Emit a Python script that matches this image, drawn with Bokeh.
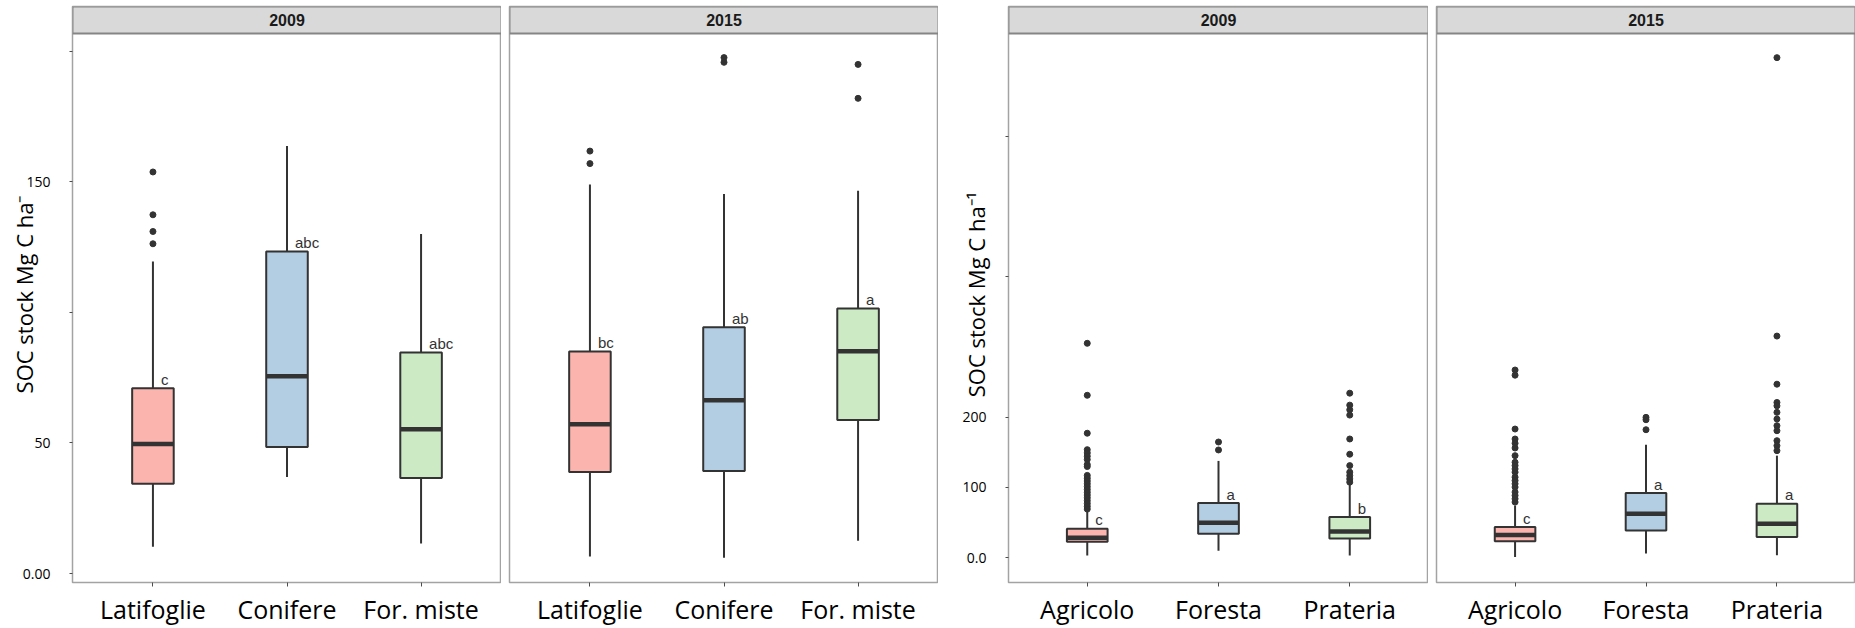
from bokeh.plotting import figure
from bokeh.layouts import row
from bokeh.models import FixedTicker, Range1d, ColumnDataSource
from bokeh.core.properties import value
from bokeh.embed import file_html
from bokeh.resources import INLINE

# ---------------- data ----------------
years = ["2009", "2015"]
forest_types = ["Latifoglie", "Conifere", "For. miste"]
land_uses = ["Agricolo", "Foresta", "Prateria"]
box_colors = ["#fbb4ae", "#b3cde3", "#ccebc5"]

ft2009_low = [10.3, 37.0, 11.5]
ft2009_q1 = [34.4, 48.5, 36.6]
ft2009_median = [49.6, 75.6, 55.3]
ft2009_q3 = [71.0, 123.3, 84.7]
ft2009_high = [119.5, 163.7, 130.0]
ft2009_outliers = [[153.8, 137.4, 131.0, 126.3], [], []]
ft2009_letters = ["c", "abc", "abc"]

ft2015_low = [6.5, 6.0, 12.6]
ft2015_q1 = [38.9, 39.3, 58.8]
ft2015_median = [57.2, 66.4, 85.1]
ft2015_q3 = [85.0, 94.3, 101.5]
ft2015_high = [149.0, 145.4, 146.6]
ft2015_outliers = [[161.8, 157.0], [197.6, 195.8], [195.0, 182.0]]
ft2015_letters = ["bc", "ab", "a"]

lu2009_low = [2.8, 9.9, 2.8]
lu2009_q1 = [22.7, 34.0, 27.0]
lu2009_median = [28.4, 49.6, 37.3]
lu2009_q3 = [41.1, 77.6, 57.7]
lu2009_high = [66.0, 137.6, 105.0]
lu2009_outliers = [
    [305, 231, 177, 153.6, 149, 144.3, 139.6, 132.5, 129.6, 117, 113, 109, 105,
     101, 97, 93, 89, 85, 81, 77, 73, 69],
    [164.5, 153.2],
    [234, 217, 210.4, 202.8, 168.8, 147.1, 130.9, 121.6, 116.7, 112, 107.4],
]
lu2009_letters = ["c", "a", "b"]

lu2015_low = [1.0, 5.7, 3.3]
lu2015_q1 = [23.1, 38.7, 29.3]
lu2015_median = [32.2, 62.4, 48.2]
lu2015_q3 = [43.5, 91.8, 76.6]
lu2015_high = [74.0, 160.7, 145.1]
lu2015_outliers = [
    [267, 259.6, 183, 168.8, 162.7, 156, 145.1, 135.7, 131, 126.2, 121.6, 114.5,
     109.6, 105, 100.3, 93.2, 88.4, 83.7, 79],
    [199.6, 196.2, 182],
    [711.6, 315.3, 246.8, 220.8, 216, 206.7, 197.2, 187.7, 180.6, 166.4, 159.3, 152.2],
]
lu2015_letters = ["c", "a", "a"]

left_ticks = [0, 50, 100, 150, 200]
left_tick_labels = {0: "0.00", 50: "50", 100: "", 150: "150", 200: ""}
right_ticks = [0, 100, 200, 400, 600]
right_tick_labels = {0: "0.0", 100: "100", 200: "200", 400: "", 600: ""}
left_title = "SOC stock Mg C ha\u207b"
right_title = "SOC stock Mg C ha\u207b\u00b9"

# ---------------- layout geometry (pixels) ----------------
FIG_H = 628
FRAME_TOP = 6
FRAME_BOT = 584
STRIP_BOT = 33
XR = (0.4, 3.6)

bounds = [0, 501, 938, 1428, 1855]
frame_lefts = [72, 509, 1008, 1436]


def v_left(py):
    return (575 - py) / 2.62


def v_right(py):
    return (559 - py) / 0.705


yl = (v_left(FRAME_BOT), v_left(FRAME_TOP), v_left(STRIP_BOT))
yr = (v_right(FRAME_BOT), v_right(FRAME_TOP), v_right(STRIP_BOT))

INK = "#333333"


def make_panel(cats, low, q1, med, q3, high, outliers, letters, year, idx, yspec,
               ticks=None, tick_labels=None, title=None, title_standoff=0):
    page_left, page_right = bounds[idx], bounds[idx + 1]
    frame_left = frame_lefts[idx]
    y0, y1, strip_bottom = yspec
    p = figure(width=page_right - page_left, height=FIG_H,
               x_range=Range1d(*XR), y_range=Range1d(y0, y1),
               output_backend="svg", toolbar_location=None,
               min_border_left=frame_left - page_left, min_border_right=0,
               min_border_top=FRAME_TOP, min_border_bottom=FIG_H - FRAME_BOT,
               y_axis_location="left" if ticks is not None else None)
    p.background_fill_color = "white"
    p.border_fill_color = "white"
    p.outline_line_color = "#a3a3a3"
    p.outline_line_width = 1.5
    p.xgrid.visible = False
    p.ygrid.visible = False

    p.xaxis.ticker = FixedTicker(ticks=[1, 2, 3])
    p.xaxis.major_label_overrides = {i + 1: c for i, c in enumerate(cats)}
    p.xaxis.major_label_text_font = "Open Sans"
    p.xaxis.major_label_text_font_size = "25px"
    p.xaxis.major_label_text_color = "black"
    p.xaxis.axis_line_color = None
    p.xaxis.major_tick_line_color = "#4d4d4d"
    p.xaxis.major_tick_in = 0
    p.xaxis.major_tick_out = 4
    p.xaxis.minor_tick_line_color = None
    p.xaxis.minor_tick_out = 0
    p.xaxis.major_label_standoff = 5

    if ticks is not None:
        p.yaxis.ticker = FixedTicker(ticks=ticks)
        p.yaxis.major_label_overrides = tick_labels
        p.yaxis.major_label_text_font = "Open Sans"
        p.yaxis.major_label_text_font_size = "14px"
        p.yaxis.major_label_text_color = "black"
        p.yaxis.axis_line_color = None
        p.yaxis.major_tick_line_color = "#4d4d4d"
        p.yaxis.major_tick_in = 0
        p.yaxis.major_tick_out = 3
        p.yaxis.minor_tick_line_color = None
        p.yaxis.minor_tick_out = 0
        p.yaxis.major_label_standoff = 19
        p.yaxis.axis_label = title
        p.yaxis.axis_label_text_font = "Open Sans"
        p.yaxis.axis_label_text_font_size = "22px"
        p.yaxis.axis_label_text_font_style = "normal"
        p.yaxis.axis_label_text_color = "black"
        p.yaxis.axis_label_standoff = title_standoff

    # facet strip
    p.quad(left=[XR[0]], right=[XR[1]], bottom=[strip_bottom], top=[y1],
           fill_color="#d9d9d9", line_color="#858585", line_width=2)
    p.text(x=[(XR[0] + XR[1]) / 2], y=[(strip_bottom + y1) / 2], text=[year],
           text_align="center", text_baseline="middle",
           text_font=value("Liberation Sans"), text_font_size="16px",
           text_font_style="bold", text_color="#1a1a1a")

    xs = [1, 2, 3]
    bw = 0.31
    src = ColumnDataSource(dict(
        x=xs, low=low, q1=q1, med=med, q3=q3, high=high,
        mx0=[x - bw / 2 for x in xs], mx1=[x + bw / 2 for x in xs],
        color=box_colors, letters=letters))
    p.segment(x0="x", y0="q3", x1="x", y1="high", source=src, line_color=INK, line_width=2)
    p.segment(x0="x", y0="low", x1="x", y1="q1", source=src, line_color=INK, line_width=2)
    p.vbar(x="x", width=bw, bottom="q1", top="q3", source=src,
           fill_color="color", line_color=INK, line_width=2)
    p.segment(x0="mx0", y0="med", x1="mx1", y1="med", source=src,
              line_color=INK, line_width=4.5, line_cap="butt")
    ox = [xs[i] for i, vals in enumerate(outliers) for _ in vals]
    oy = [v for vals in outliers for v in vals]
    if ox:
        p.scatter(ox, oy, size=6, color=INK)
    p.text(x="x", y="q3", text="letters", source=src, x_offset=8, y_offset=-9,
           text_align="left", text_baseline="alphabetic",
           text_font=value("Liberation Sans"), text_font_size="15px", text_color=INK)
    return p


p1 = make_panel(forest_types, ft2009_low, ft2009_q1, ft2009_median, ft2009_q3, ft2009_high,
                ft2009_outliers, ft2009_letters, years[0], 0, yl, left_ticks, left_tick_labels,
                left_title, -19)
p2 = make_panel(forest_types, ft2015_low, ft2015_q1, ft2015_median, ft2015_q3, ft2015_high,
                ft2015_outliers, ft2015_letters, years[1], 1, yl)
p3 = make_panel(land_uses, lu2009_low, lu2009_q1, lu2009_median, lu2009_q3, lu2009_high,
                lu2009_outliers, lu2009_letters, years[0], 2, yr, right_ticks, right_tick_labels,
                right_title, -32)
p4 = make_panel(land_uses, lu2015_low, lu2015_q1, lu2015_median, lu2015_q3, lu2015_high,
                lu2015_outliers, lu2015_letters, years[1], 3, yr)

layout = row(p1, p2, p3, p4, spacing=0)
open("out.html", "w").write(file_html(layout, INLINE))
